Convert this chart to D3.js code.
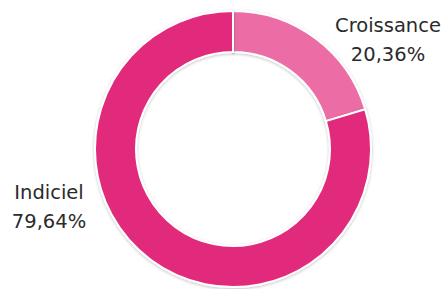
<!DOCTYPE html>
<html lang="fr">
<head>
<meta charset="UTF-8">
<title>donut</title>
<style>
  body { margin: 0; background: #fff; }
  svg text { font-family: "DejaVu Sans", sans-serif; fill: #2b2b2b; }
</style>
</head>
<body>
<script src="https://d3js.org/d3.v7.min.js"></script>
<div id="chart"></div>
<script>
// data
var categories = ["Croissance", "Indiciel"];
var values = [20.36, 79.64];
var labels = ["20,36%", "79,64%"];
var colors = ["#ec6da5", "#e22b7b"];

var width = 446, height = 289;
var cx = 233, cy = 149, outerR = 138, innerR = 97;

var svg = d3.select("#chart").append("svg")
    .attr("width", width)
    .attr("height", height);

// faint shadow like the original
var defs = svg.append("defs");
var f = defs.append("filter").attr("id", "shadow")
    .attr("x", "-10%").attr("y", "-10%").attr("width", "120%").attr("height", "120%");
f.append("feDropShadow").attr("dx", 0).attr("dy", 1).attr("stdDeviation", 1.5)
    .attr("flood-color", "#000").attr("flood-opacity", 0.25);

var g = svg.append("g").attr("transform", "translate(" + cx + "," + cy + ")");

var pie = d3.pie().sort(null).value(function (d) { return d; });
var arc = d3.arc().innerRadius(innerR).outerRadius(outerR);

g.selectAll("path")
    .data(pie(values))
    .enter()
    .append("path")
    .attr("d", arc)
    .attr("fill", function (d, i) { return colors[i]; })
    .attr("stroke", "#fff")
    .attr("stroke-width", 2)
    .attr("filter", "url(#shadow)");

// labels placed outside the ring
var labelPos = [[388, 32], [49, 199]];
var lineGap = 29;
categories.forEach(function (c, i) {
    var t = svg.append("text")
        .attr("text-anchor", "middle")
        .attr("font-size", 19.5);
    t.append("tspan").attr("x", labelPos[i][0]).attr("y", labelPos[i][1]).text(c);
    t.append("tspan").attr("x", labelPos[i][0]).attr("y", labelPos[i][1] + lineGap).text(labels[i]);
});
</script>
</body>
</html>
